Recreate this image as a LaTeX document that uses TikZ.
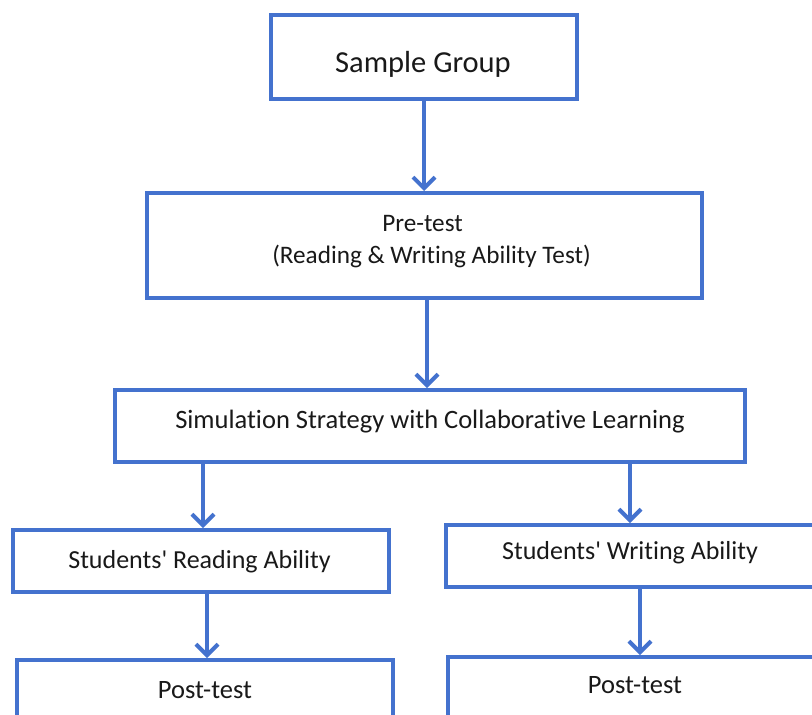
\documentclass[tikz,border=0pt]{standalone}
\usepackage{fontspec}
\setmainfont{Carlito}[Ligatures={NoCommon}]
\usetikzlibrary{arrows.meta}
\definecolor{bl}{RGB}{68,114,206}
\tikzset{
  box/.style={draw=bl, line width=4pt, fill=white, inner sep=0pt},
  txt/.style={anchor=base, inner sep=0pt, text=black!90},
  conn/.style={draw=bl, line width=4pt, -{Straight Barb[length=11pt,width=22pt,line width=4pt]}}
}
\begin{document}
\begin{tikzpicture}[x=1pt,y=-1pt]
\useasboundingbox[fill=white] (0,0) rectangle (812,715);
\clip (0,0) rectangle (812,715);
\node[box, minimum width=306, minimum height=84] (sg) at (424,57) {};
\node[box, minimum width=555, minimum height=105] (pre) at (424.5,245.5) {};
\node[box, minimum width=630, minimum height=72] (sim) at (430,426) {};
\node[box, minimum width=376, minimum height=62] (rd) at (201,561) {};
\node[box, minimum width=368, minimum height=62] (wr) at (630,556) {};
\node[box, minimum width=376, minimum height=110, anchor=north] (pl) at (205,658) {};
\node[box, minimum width=376, minimum height=110, anchor=north] (pr) at (636,655) {};
\node[txt, font=\fontsize{30.5}{36}\selectfont] (sgt) at (423,72) {Sample Group};
\node[txt, font=\fontsize{25.2}{30}\selectfont] (pret1) at (422.5,231) {Pre-test};
\node[txt, font=\fontsize{25.2}{30}\selectfont] (pret2) at (431.5,263) {(Reading \& Writing Ability Test)};
\node[txt, font=\fontsize{26.5}{30}\selectfont] (simt) at (430,428) {Simulation Strategy with Collaborative Learning};
\node[txt, font=\fontsize{26}{30}\selectfont] (rdt) at (199.5,568) {Students\textquotesingle\ Reading Ability};
\node[txt, font=\fontsize{26}{30}\selectfont] (wrt) at (630,559) {Students\textquotesingle\ Writing Ability};
\node[txt, font=\fontsize{26.5}{30}\selectfont] (plt) at (205,698) {Post-test};
\node[txt, font=\fontsize{26.5}{30}\selectfont] (prt) at (635,693) {Post-test};
\coordinate (a1) at (424,0);
\coordinate (a2) at (427,0);
\coordinate (a3) at (203,0);
\coordinate (a4) at (630,0);
\coordinate (a5) at (207,0);
\coordinate (a6) at (640,0);
\draw[conn] (a1 |- sg.south) -- (a1 |- pre.north);
\draw[conn] (a2 |- pre.south) -- (a2 |- sim.north);
\draw[conn] (a3 |- sim.south) -- (a3 |- rd.north);
\draw[conn] (a4 |- sim.south) -- (a4 |- wr.north);
\draw[conn] (a5 |- rd.south) -- (a5 |- pl.north);
\draw[conn] (a6 |- wr.south) -- (a6 |- pr.north);
\end{tikzpicture}
\end{document}
